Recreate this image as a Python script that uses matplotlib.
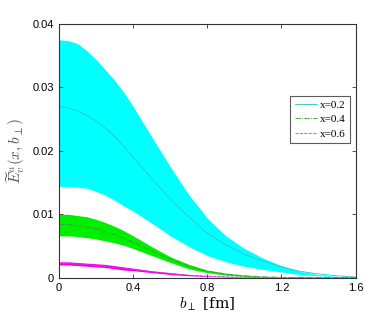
import matplotlib
matplotlib.use("Agg")
import matplotlib.pyplot as plt

b = [0.0, 0.05, 0.1, 0.15, 0.2, 0.25, 0.3, 0.35, 0.4, 0.5, 0.6, 0.7, 0.8, 0.9, 1.0, 1.1, 1.2, 1.3, 1.4, 1.5, 1.6]

cyan_upper = [0.0375, 0.0374, 0.0369, 0.0358, 0.0344, 0.0328, 0.0311, 0.0292, 0.0270, 0.0222, 0.0175, 0.0131, 0.0094, 0.0066, 0.0046, 0.0031, 0.0019, 0.0010, 0.0005, 0.0002, 0.00005]
cyan_mid = [0.0270, 0.0268, 0.0263, 0.0256, 0.0247, 0.0236, 0.0223, 0.0207, 0.0190, 0.0156, 0.0124, 0.0096, 0.0070, 0.0052, 0.0037, 0.0026, 0.0017, 0.0010, 0.0006, 0.0003, 0.0001]
cyan_lower = [0.0144, 0.0144, 0.0143, 0.0141, 0.0136, 0.0130, 0.0122, 0.0113, 0.0105, 0.0086, 0.0066, 0.0049, 0.0035, 0.0025, 0.0018, 0.0013, 0.0009, 0.0005, 0.0003, 0.0001, 0.00003]

green_upper = [0.0100, 0.0100, 0.0098, 0.0096, 0.0092, 0.0087, 0.0081, 0.0074, 0.0066, 0.0049, 0.0033, 0.0021, 0.0012, 0.0007, 0.0004, 0.0002, 0.0001, 0.00005, 0.00002, 0.00001, 0.0]
green_mid = [0.0084, 0.0084, 0.0082, 0.0080, 0.0077, 0.0073, 0.0068, 0.0062, 0.0056, 0.0042, 0.0029, 0.0018, 0.0010, 0.0006, 0.0003, 0.00015, 0.00007, 0.00003, 0.00001, 0.0, 0.0]
green_lower = [0.0066, 0.0066, 0.0065, 0.0063, 0.0061, 0.0058, 0.0055, 0.0051, 0.0046, 0.0035, 0.0024, 0.0014, 0.0008, 0.0004, 0.0002, 0.0001, 0.00005, 0.00002, 0.0, 0.0, 0.0]

mag_upper = [0.0025, 0.0025, 0.0024, 0.0023, 0.0022, 0.0021, 0.0019, 0.0017, 0.0015, 0.0011, 0.0008, 0.0005, 0.0003, 0.0002, 0.0001, 0.00005, 0.00003, 0.00001, 0.0, 0.0, 0.0]
mag_mid = [0.00225, 0.00223, 0.00215, 0.00205, 0.00195, 0.0018, 0.00165, 0.00148, 0.0013, 0.00095, 0.00065, 0.0004, 0.00025, 0.00014, 0.00008, 0.00004, 0.00002, 0.00001, 0.0, 0.0, 0.0]
mag_lower = [0.0020, 0.0020, 0.0019, 0.0018, 0.0017, 0.0016, 0.0014, 0.0012, 0.0011, 0.0008, 0.0005, 0.0003, 0.0002, 0.0001, 0.00005, 0.00002, 0.00001, 0.0, 0.0, 0.0, 0.0]

labels = ["x=0.2", "x=0.4", "x=0.6"]
xticks = [0, 0.4, 0.8, 1.2, 1.6]
xticklabels = ["0", "0.4", "0.8", "1.2", "1.6"]
yticks = [0, 0.01, 0.02, 0.03, 0.04]
yticklabels = ["0", "0.01", "0.02", "0.03", "0.04"]

plt.rcParams['mathtext.fontset'] = 'cm'
plt.rcParams['font.family'] = ['Liberation Sans', 'DejaVu Sans']

fig = plt.figure(figsize=(3.82, 3.13), dpi=100)
ax = fig.add_axes([0.1545, 0.1128, 0.7765, 0.8105])

ax.fill_between(b, cyan_lower, cyan_upper, color='#00FFFF', lw=0)
ax.fill_between(b, green_lower, green_upper, color='#00EE00', lw=0)
ax.fill_between(b, mag_lower, mag_upper, color='#EE00EE', lw=0)

ax.plot(b, cyan_mid, color='#20C8C8', lw=0.6, ls='-', label=labels[0])
ax.plot(b, green_mid, color='#3C9A3C', lw=0.6, ls='-.', label=labels[1])
ax.plot(b, mag_mid, color='#D040D0', lw=0.6, ls='--', label=labels[2])

ax.set_xlim(0, 1.6)
ax.set_ylim(0, 0.04)
ax.set_xticks(xticks)
ax.set_xticklabels(xticklabels)
ax.set_yticks(yticks)
ax.set_yticklabels(yticklabels)
ax.tick_params(direction='in', top=True, right=True, labelsize=8, length=3, width=0.6, colors='#333333', labelcolor='black')
for s in ax.spines.values():
    s.set_linewidth(0.8)
    s.set_color('#333333')

ax.set_xlabel(r'$b_\perp$ [fm]', fontsize=11, family='DejaVu Serif', labelpad=2)
ax.set_ylabel(r'$\widetilde{E}_v^u(x,b_\perp)$', fontsize=11, labelpad=4, color='#555555')

leg = ax.legend(loc='center right', bbox_to_anchor=(0.99, 0.624),
                prop={'family': 'Liberation Serif', 'size': 8}, frameon=True, fancybox=False,
                edgecolor='#333333', handlelength=2.0, handletextpad=0.3, borderpad=0.4, labelspacing=0.4,
                borderaxespad=0.2)
leg.get_frame().set_linewidth(0.8)

fig.savefig('out.png', dpi=100)
